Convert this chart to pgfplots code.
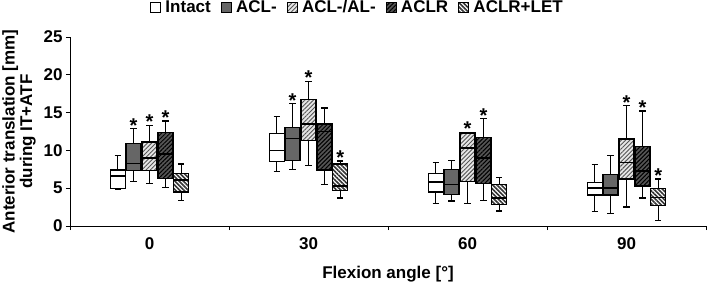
\documentclass[border=0pt]{standalone}
\usepackage{pgfplots}
\pgfplotsset{compat=1.18}
\usepgfplotslibrary{statistics}
\usetikzlibrary{patterns.meta}
\usepackage{fontspec}
\setmainfont{Liberation Sans}
\definecolor{aclgray}{HTML}{666666}
\definecolor{aclrgray}{HTML}{555555}
\definecolor{alback}{HTML}{E6E6E6}
\definecolor{stripegray}{HTML}{555555}
\definecolor{letgray}{HTML}{333333}
\tikzset{
  sIntact/.style={fill=white},
  sACL/.style={fill=aclgray},
  sAL/.style={fill=alback, postaction={pattern={Lines[angle=45,distance=3pt,line width=0.9pt]}, pattern color=stripegray}},
  sACLR/.style={fill=aclrgray, postaction={pattern={Lines[angle=45,distance=3pt,line width=1.0pt]}, pattern color=black}},
  sLET/.style={fill=white, postaction={pattern={Lines[angle=-45,distance=3pt,line width=1.6pt]}, pattern color=letgray}},
}
\pgfplotsset{
  bx/.style={forget plot, draw=black, line width=1.3pt, solid,
    boxplot/draw direction=y,
    boxplot/box extend=0.094, boxplot/whisker extend=0.04,
    boxplot/every box/.style={#1},
    boxplot/every median/.style={line width=1.5pt}},
}
\newcommand\lab{\fontsize{17}{19}\selectfont\bfseries}
\begin{document}
\begin{tikzpicture}
\useasboundingbox (-70pt,-56pt) rectangle (638pt,226pt);
\begin{axis}[
  at={(0,0)}, anchor=south west,
  scale only axis, width=636pt, height=189pt,
  xmin=-0.5, xmax=3.5, ymin=0, ymax=25,
  axis x line=bottom, axis y line=left,
  axis line style={-, line width=0.9pt},
  font=\lab,
  /pgf/number format/assume math mode=true,
  ticklabel style={font=\lab},
  xticklabel style={yshift=-4pt},
  ytick={0,5,10,15,20,25},
  xtick={0,1,2,3}, xticklabels={0,30,60,90},
  xtick style={draw=none},
  ytick style={draw=black, line width=0.9pt},
  tick align=outside, major tick length=4pt,
  extra x ticks={-0.5,0.5,1.5,2.5,3.5},
  extra x tick labels={},
  extra x tick style={xtick style={draw=black, line width=0.9pt}},
  xlabel={Flexion angle [°]},
  ylabel={Anterior translation [mm]\\during IT+ATF},
  every axis y label/.style={at={(axis description cs:0,0.5)}, xshift=-51pt, rotate=90, anchor=center, align=center, font=\fontsize{17}{17.5}\selectfont\bfseries},
  every axis x label/.style={at={(axis description cs:0.5,0)}, anchor=center, yshift=-48pt, font=\lab},
  legend style={at={(axis description cs:0.452,1)}, anchor=center, yshift=30pt, draw=none, fill=none,
    legend columns=-1, font=\lab,
    /tikz/every odd column/.append style={column sep=2.5pt},
    /tikz/every even column/.append style={column sep=8pt}},
  legend image code/.code={\draw[#1, line width=0.8pt, draw=black] (0pt,-5pt) rectangle (10pt,5pt);},
]
% 0 deg
\addplot[bx=sIntact, boxplot prepared={lower whisker=4.9, lower quartile=5.0, median=6.6, upper quartile=7.4, upper whisker=9.3, draw position=-0.2}] coordinates {};
\addplot[bx=sACL, boxplot prepared={lower whisker=5.9, lower quartile=7.3, median=8.3, upper quartile=10.9, upper whisker=12.9, draw position=-0.1}] coordinates {};
\addplot[bx=sAL, boxplot prepared={lower whisker=5.6, lower quartile=7.3, median=9.0, upper quartile=11.1, upper whisker=13.3, draw position=0}] coordinates {};
\addplot[bx=sACLR, boxplot prepared={lower whisker=5.1, lower quartile=6.3, median=9.5, upper quartile=12.4, upper whisker=13.9, draw position=0.1}] coordinates {};
\addplot[bx=sLET, boxplot prepared={lower whisker=3.4, lower quartile=4.5, median=6.1, upper quartile=6.9, upper whisker=8.2, draw position=0.2}] coordinates {};
% 30 deg
\addplot[bx=sIntact, boxplot prepared={lower whisker=7.2, lower quartile=8.5, median=10.0, upper quartile=12.2, upper whisker=14.5, draw position=0.8}] coordinates {};
\addplot[bx=sACL, boxplot prepared={lower whisker=7.5, lower quartile=8.7, median=11.6, upper quartile=13.0, upper whisker=16.2, draw position=0.9}] coordinates {};
\addplot[bx=sAL, boxplot prepared={lower whisker=8.0, lower quartile=11.3, median=13.5, upper quartile=16.7, upper whisker=19.1, draw position=1.0}] coordinates {};
\addplot[bx=sACLR, boxplot prepared={lower whisker=5.5, lower quartile=7.4, median=12.5, upper quartile=13.5, upper whisker=15.6, draw position=1.1}] coordinates {};
\addplot[bx=sLET, boxplot prepared={lower whisker=3.7, lower quartile=4.7, median=5.3, upper quartile=8.2, upper whisker=8.6, draw position=1.2}] coordinates {};
% 60 deg
\addplot[bx=sIntact, boxplot prepared={lower whisker=3.0, lower quartile=4.5, median=5.8, upper quartile=6.9, upper whisker=8.4, draw position=1.8}] coordinates {};
\addplot[bx=sACL, boxplot prepared={lower whisker=3.3, lower quartile=4.2, median=5.5, upper quartile=7.5, upper whisker=8.7, draw position=1.9}] coordinates {};
\addplot[bx=sAL, boxplot prepared={lower whisker=3.0, lower quartile=5.9, median=10.3, upper quartile=12.3, upper whisker=12.4, draw position=2.0}] coordinates {};
\addplot[bx=sACLR, boxplot prepared={lower whisker=3.4, lower quartile=5.6, median=9.0, upper quartile=11.7, upper whisker=14.2, draw position=2.1}] coordinates {};
\addplot[bx=sLET, boxplot prepared={lower whisker=2.0, lower quartile=2.8, median=3.7, upper quartile=5.5, upper whisker=6.4, draw position=2.2}] coordinates {};
% 90 deg
\addplot[bx=sIntact, boxplot prepared={lower whisker=1.9, lower quartile=4.1, median=5.0, upper quartile=5.8, upper whisker=8.1, draw position=2.8}] coordinates {};
\addplot[bx=sACL, boxplot prepared={lower whisker=1.7, lower quartile=4.1, median=5.0, upper quartile=6.8, upper whisker=9.3, draw position=2.9}] coordinates {};
\addplot[bx=sAL, boxplot prepared={lower whisker=2.5, lower quartile=6.2, median=8.4, upper quartile=11.5, upper whisker=15.9, draw position=3.0}] coordinates {};
\addplot[bx=sACLR, boxplot prepared={lower whisker=3.7, lower quartile=5.3, median=7.3, upper quartile=10.5, upper whisker=15.2, draw position=3.1}] coordinates {};
\addplot[bx=sLET, boxplot prepared={lower whisker=0.7, lower quartile=2.7, median=3.8, upper quartile=5.0, upper whisker=6.2, draw position=3.2}] coordinates {};
% significance stars
\addplot[forget plot, only marks, mark=none, nodes near coords={*},
  every node near coord/.style={anchor=center, inner sep=0pt, yshift=-4pt, font=\fontsize{20}{20}\selectfont\bfseries}]
  coordinates {(-0.1,13.8) (0,14.3) (0.1,14.8)
               (0.9,17.1) (1.0,20.2) (1.2,9.6)
               (2.0,13.4) (2.1,15.1)
               (3.0,16.9) (3.1,16.2) (3.2,7.2)};
% legend
\addlegendimage{sIntact}\addlegendentry{Intact}
\addlegendimage{sACL}\addlegendentry{ACL-}
\addlegendimage{sAL}\addlegendentry{ACL-/AL-}
\addlegendimage{sACLR}\addlegendentry{ACLR}
\addlegendimage{sLET}\addlegendentry{ACLR+LET}
\end{axis}
\end{tikzpicture}
\end{document}
